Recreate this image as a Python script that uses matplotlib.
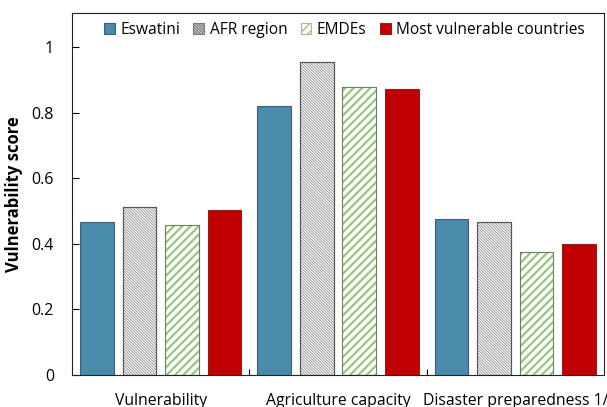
import matplotlib
matplotlib.use("Agg")
import matplotlib.pyplot as plt
import numpy as np

categories = ["Vulnerability", "Agriculture capacity", "Disaster preparedness 1/"]
series_names = ["Eswatini", "AFR region", "EMDEs", "Most vulnerable countries"]
eswatini = [0.466, 0.822, 0.477]
afr_region = [0.514, 0.954, 0.467]
emdes = [0.459, 0.880, 0.375]
most_vulnerable = [0.504, 0.873, 0.401]
y_ticks = [0, 0.2, 0.4, 0.6, 0.8, 1]
y_tick_labels = ["0", "0.2", "0.4", "0.6", "0.8", "1"]

plt.rcParams["font.family"] = ["Open Sans", "DejaVu Sans"]

fig = plt.figure(figsize=(6.07, 4.07), dpi=100)
ax = fig.add_axes([72 / 607, 32 / 407, 532 / 607, 362 / 407])

x = np.arange(len(categories))
width = 0.19
step = 0.24
offsets = [-1.5 * step, -0.5 * step, 0.5 * step, 1.5 * step]

styles = [
    dict(facecolor="#4a8aab", edgecolor="#3f5f70", hatch=None, hlw=None),
    dict(facecolor="white", edgecolor="#7a7a7a", hatch="\\\\\\\\\\\\\\\\\\\\\\\\", hlw=0.5),
    dict(facecolor="white", edgecolor="#9cc383", hatch="////", hlw=1.6),
    dict(facecolor="#c00000", edgecolor="#8a2020", hatch=None, hlw=None),
]
values = [eswatini, afr_region, emdes, most_vulnerable]

for name, vals, off, st in zip(series_names, values, offsets, styles):
    bars = ax.bar(x + off, vals, width, label=name, facecolor=st["facecolor"],
                  edgecolor=st["edgecolor"], linewidth=0.8, hatch=st["hatch"])
    if st["hatch"] and hasattr(bars[0], "set_hatch_linewidth"):
        for b in bars:
            b.set_hatch_linewidth(st["hlw"])
    if st["hatch"]:
        # darker outline drawn over the hatched bars
        ax.bar(x + off, vals, width, facecolor="none",
               edgecolor="#6e7f66" if st["hatch"] == "////" else "#555555", linewidth=0.8)

ax.set_xlim(-0.5, 2.5)
ax.set_ylim(0, 1.105)
ax.set_yticks(y_ticks)
ax.set_yticklabels(y_tick_labels, fontsize=11.5)
ax.set_xticks([0.5, 1.5])
ax.set_xticklabels([])
ax.tick_params(axis="x", direction="in", length=4, width=0.8)
ax.tick_params(axis="y", direction="in", length=5, width=0.8, pad=13)
for i, c in enumerate(categories):
    ax.text(i, -0.055, c, ha="center", va="top", fontsize=11.3,
            transform=ax.transData, clip_on=False)

for s in ax.spines.values():
    s.set_linewidth(0.8)
    s.set_color("#222222")

ax.set_ylabel("Vulnerability score", fontsize=12, fontweight="bold", labelpad=6)

leg = ax.legend(loc="center", bbox_to_anchor=(0.512, 1 - 17 / 362), ncol=4, frameon=False,
                fontsize=11.2, handlelength=0.7, handleheight=0.7, handletextpad=0.35,
                columnspacing=0.85, borderaxespad=0.0, borderpad=0.0)

fig.savefig("out.png", dpi=100)
